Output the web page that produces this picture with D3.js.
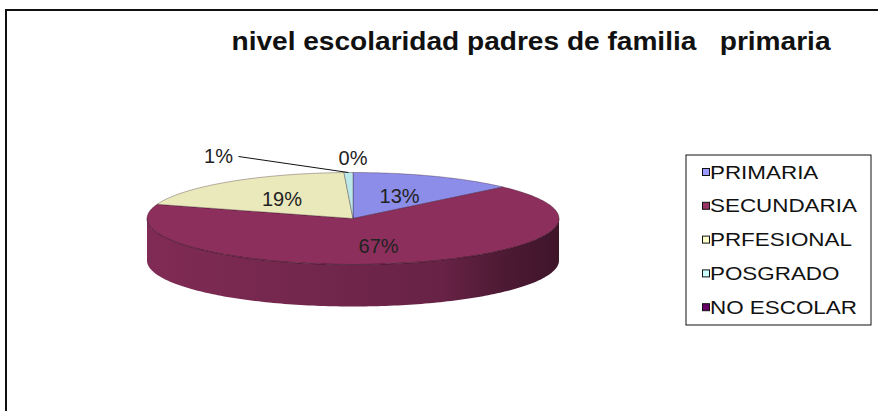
<!DOCTYPE html>
<html>
<head>
<meta charset="utf-8">
<script src="https://cdn.jsdelivr.net/npm/d3@7"></script>
<style>
  body { margin: 0; background: #fff; }
  svg { display: block; font-family: "Liberation Sans", Arial, sans-serif; }
</style>
</head>
<body>
<svg id="chart" width="878" height="411"></svg>
<script>
// data
var categories = ["PRIMARIA", "SECUNDARIA", "PRFESIONAL", "POSGRADO", "NO ESCOLAR"];
var values = [13, 67, 19.3, 0.7, 0];
var colors = ["#9999ff", "#993366", "#ffffcc", "#ccffff", "#660066"];
var title = "nivel escolaridad padres de familia   primaria";

var width = 878, height = 411;
var svg = d3.select("#chart");

// frame of the chart area (goes off the right and bottom)
svg.append("rect")
    .attr("x", 6).attr("y", 10)
    .attr("width", 900).attr("height", 440)
    .attr("fill", "#fff")
    .attr("stroke", "#111").attr("stroke-width", 2);

// title
svg.append("text")
    .attr("transform", "translate(531,50) scale(1.08,1)")
    .attr("text-anchor", "middle")
    .style("font-size", "26px")
    .style("font-weight", "bold")
    .attr("fill", "#111")
    .attr("xml:space", "preserve")
    .text(title);

// 3d pie settings
var cx = 353, cy = 218.5, rx = 206, ry = 46, depth = 42;
var total = d3.sum(values);

var pie = d3.pie().sort(null).value(function (d) { return d; });
var arcs = pie(values);

function pt(t, r, dy) {
    return [cx + rx * r * Math.sin(t), cy - ry * r * Math.cos(t) + (dy || 0)];
}
function ring(a0, a1, dy) {
    var n = Math.max(2, Math.ceil(Math.abs(a1 - a0) / 0.02));
    return d3.range(n + 1).map(function (i) { return pt(a0 + (a1 - a0) * i / n, 1, dy); });
}
var line = d3.line();

var defs = svg.append("defs");
var g = svg.append("g");

// side walls: only the part of each slice facing us (angle between pi/2 and 3pi/2)
arcs.forEach(function (a, i) {
    var s = Math.max(a.startAngle, Math.PI / 2), e = Math.min(a.endAngle, Math.PI * 3 / 2);
    if (e <= s) return;
    var base = d3.color(colors[i]);
    var gid = "side" + i;
    var grad = defs.append("linearGradient").attr("id", gid)
        .attr("gradientUnits", "userSpaceOnUse")
        .attr("x1", cx - rx).attr("x2", cx + rx).attr("y1", 0).attr("y2", 0);
    [[0, 0.5], [0.45, 0.85], [0.72, 1.1], [0.86, 1.9], [1, 2.5]].forEach(function (st) {
        grad.append("stop").attr("offset", st[0]).attr("stop-color", base.darker(st[1]).formatHex());
    });
    var pts = ring(s, e, 0).concat(ring(e, s, depth));
    g.append("path")
        .attr("d", line(pts) + "Z")
        .attr("fill", "url(#" + gid + ")")
        .attr("stroke", "none");
});

// top faces
arcs.forEach(function (a, i) {
    if (a.endAngle - a.startAngle <= 0) return;
    var pts = [[cx, cy]].concat(ring(a.startAngle, a.endAngle, 0));
    g.append("path")
        .attr("d", line(pts) + "Z")
        .attr("fill", d3.color(colors[i]).darker(0.25).formatHex())
        .attr("stroke", "#2a0a18").attr("stroke-opacity", 0.45).attr("stroke-width", 0.7);
});
// rim line between top and side
g.append("path")
    .attr("d", line(ring(Math.PI / 2, Math.PI * 3 / 2, 0)))
    .attr("fill", "none").attr("stroke", "#2a0a18").attr("stroke-opacity", 0.5).attr("stroke-width", 0.8);

// percent labels
var labels = svg.append("g").style("font-size", "20px").attr("fill", "#222");
arcs.forEach(function (a, i) {
    var pct = Math.round(values[i] / total * 100) + "%";
    var mid = (a.startAngle + a.endAngle) / 2;
    var share = values[i] / total;
    if (share >= 0.05) {
        var p = pt(mid, 0.57, 1.5);
        labels.append("text")
            .attr("x", p[0]).attr("y", p[1])
            .attr("text-anchor", "middle").attr("dy", "0.35em")
            .text(pct);
    } else if (share > 0) {
        // small slice: label pulled out to the left with a leader line
        var edge = pt(mid, 1, 0);
        var lx = edge[0] - 130, ly = cy - ry - 17;
        svg.append("path")
            .attr("d", line([[lx + 20, ly + 1], edge]))
            .attr("stroke", "#111").attr("stroke-width", 1).attr("fill", "none");
        labels.append("text")
            .attr("x", lx).attr("y", ly)
            .attr("text-anchor", "middle").attr("dy", "0.35em")
            .text(pct);
    } else {
        var q = pt(mid, 1, 0);
        labels.append("text")
            .attr("x", q[0]).attr("y", q[1] - 15)
            .attr("text-anchor", "middle").attr("dy", "0.35em")
            .text(pct);
    }
});

// legend
var lg = svg.append("g");
lg.append("rect")
    .attr("x", 686).attr("y", 155).attr("width", 185).attr("height", 170)
    .attr("fill", "#fff").attr("stroke", "#111").attr("stroke-width", 1);
var ly0 = 172, lstep = 33.8;
categories.forEach(function (c, i) {
    var y = ly0 + i * lstep;
    lg.append("rect")
        .attr("x", 702.5).attr("y", y - 3.5).attr("width", 7).attr("height", 7)
        .attr("fill", colors[i]).attr("stroke", "#111").attr("stroke-width", 1);
    lg.append("text")
        .attr("transform", "translate(710," + y + ") scale(1.18,1)")
        .attr("dy", "0.35em")
        .style("font-size", "19px")
        .attr("fill", "#111")
        .text(c);
});
</script>
</body>
</html>
